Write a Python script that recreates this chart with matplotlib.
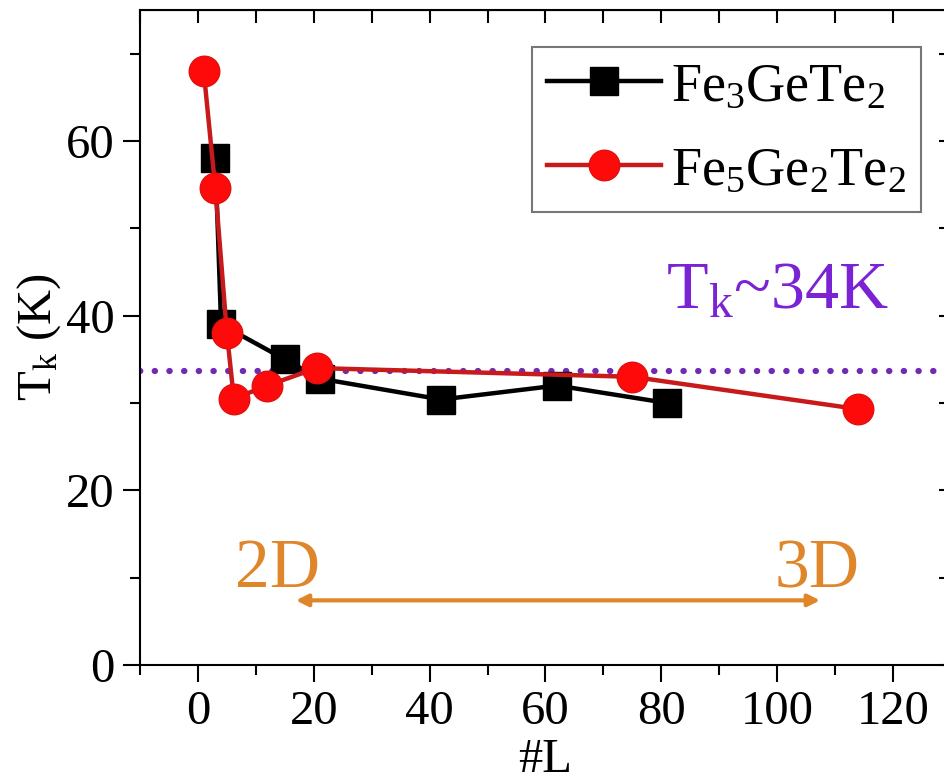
import numpy as np
import matplotlib
matplotlib.use("Agg")
import matplotlib.pyplot as plt
from matplotlib.ticker import MultipleLocator

plt.rcParams['font.family'] = ['Liberation Serif', 'DejaVu Serif']
plt.rcParams['mathtext.fontset'] = 'custom'
plt.rcParams['mathtext.rm'] = 'Liberation Serif'
plt.rcParams['mathtext.it'] = 'Liberation Serif'
plt.rcParams['mathtext.default'] = 'regular'

# Fe3GeTe2
L_fgt = [3, 4, 15, 21, 42, 62, 81]
T_fgt = [58, 39, 35, 32.8, 30.4, 32, 30]
# Fe5Ge2Te2
L_f5 = [1, 3, 5, 6.2, 12, 20.5, 75, 114]
T_f5 = [68, 54.6, 38, 30.5, 32, 34, 33, 29.3]
Tk_avg = 33.7

purple = '#6f2bb5'
orange = '#e0862a'

fig = plt.figure(figsize=(9.45, 7.84), dpi=100)
ax = fig.add_axes([140/945, 1 - 665/784, 811/945, 655/784])

ax.axhline(Tk_avg, color=purple, lw=4.5, linestyle=(0, (0.05, 2.3)),
           dash_capstyle='round', zorder=1)

ax.plot(L_fgt, T_fgt, color='black', lw=3.2, marker='s', ms=20,
        mfc='black', mec='black', label=r'Fe$_3$GeTe$_2$', zorder=3)
ax.plot(L_f5, T_f5, color='#c8191b', lw=3.2, marker='o', ms=22,
        mfc='#ff0a0a', mec='#e01010', label=r'Fe$_5$Ge$_2$Te$_2$', zorder=4)

ax.text(100, 40.8, r'T$_\mathrm{k}$~34K', color='#7a22d4', fontsize=49,
        ha='center', va='baseline')

ax.annotate('', xy=(16.9, 7.4), xytext=(107.4, 7.4),
            arrowprops=dict(arrowstyle='<|-|>,head_length=0.7,head_width=0.35',
                            color=orange, lw=3, shrinkA=0, shrinkB=0))
ax.text(13.8, 8.9, '2D', color=orange, fontsize=50, ha='center', va='baseline')
ax.text(106.9, 8.9, '3D', color=orange, fontsize=50, ha='center', va='baseline')

ax.set_xlim(-10, 130)
ax.set_ylim(0, 75)
ax.xaxis.set_major_locator(MultipleLocator(20))
ax.xaxis.set_minor_locator(MultipleLocator(10))
ax.yaxis.set_major_locator(MultipleLocator(20))
ax.yaxis.set_minor_locator(MultipleLocator(10))
ax.tick_params(which='major', direction='out', length=12, width=1.5,
               labelsize=35, pad=6)
ax.tick_params(which='minor', direction='out', length=7, width=1.5)
for s in ax.spines.values():
    s.set_linewidth(1.5)

top = ax.secondary_xaxis('top')
top.xaxis.set_major_locator(MultipleLocator(10))
top.tick_params(direction='in', length=9, width=1.5, labeltop=False)
right = ax.secondary_yaxis('right')
right.yaxis.set_major_locator(MultipleLocator(10))
right.tick_params(direction='in', length=9, width=1.5, labelright=False)

ax.set_xlabel('#L', fontsize=35, labelpad=3)
ax.set_ylabel(r'T$_\mathrm{k}$ (K)', fontsize=35, labelpad=2)

leg = ax.legend(loc='upper left', bbox_to_anchor=(0.483, 0.944), fontsize=39,
                frameon=True, fancybox=False, edgecolor='#555555',
                handlelength=2.1, handletextpad=0.2, labelspacing=0.62,
                borderpad=0.28, borderaxespad=0, numpoints=1)
leg.get_frame().set_linewidth(1.5)

fig.savefig('out.png', dpi=100)
